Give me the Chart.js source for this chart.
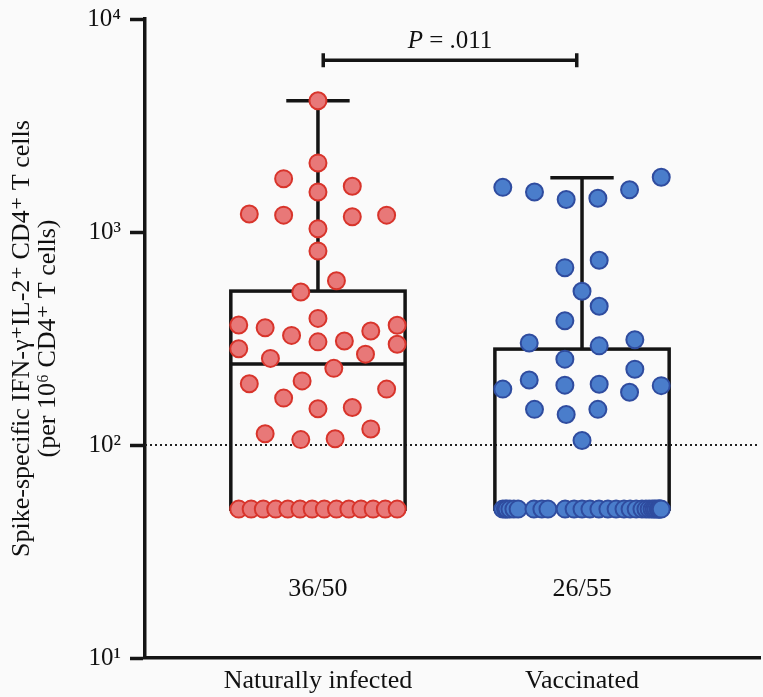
<!DOCTYPE html>
<html>
<head>
<meta charset="utf-8">
<script src="https://cdn.jsdelivr.net/npm/chart.js@4/dist/chart.umd.min.js"></script>
<style>
  html, body { margin: 0; padding: 0; background: #fafafa; }
  #wrap { width: 763px; height: 697px; }
</style>
</head>
<body>
<div id="wrap"><canvas id="c" width="763" height="697"></canvas></div>
<script>
// ---------- data ----------
const categories = ['Naturally infected', 'Vaccinated'];
const positiveCounts = ['36/50', '26/55'];
const yTickValues = [10, 100, 1000, 10000];
const detectionThreshold = 100;
const pValueLabel = '.011';

// Naturally infected: 36 positive responses + 14 below detection (plotted at 50)
const infectedValues = [
  4130, 2110, 1780, 1540, 1640, 1215, 1200, 1180, 1200, 1035, 815, 590, 523,
  366, 355, 393, 327, 343, 365, 283, 305, 308, 297, 255, 267, 229,
  194, 200, 183, 166, 148, 150, 119, 113, 106, 107,
  50, 50, 50, 50, 50, 50, 50, 50, 50, 50, 50, 50, 50, 50
];
const infectedJitter = [
  0, 0, -0.13, 0, 0.13, -0.26, -0.13, 0.13, 0.26, 0, 0, 0.07, -0.065,
  -0.30, -0.20, 0, -0.10, 0.20, 0.30, -0.30, 0, 0.10, 0.30, -0.18, 0.18, 0.06,
  -0.26, -0.06, 0.26, -0.13, 0, 0.13, 0.20, -0.20, -0.065, 0.065,
  -0.30, -0.253, -0.207, -0.16, -0.114, -0.068, -0.022, 0.024, 0.07, 0.117, 0.163, 0.209, 0.255, 0.30
];

// Vaccinated: 26 positive responses + 29 below detection (plotted at 50)
const vaccinatedValues = [
  1620, 1540, 1420, 1440, 1580, 1806, 680, 737, 527, 448, 383,
  301, 292, 312, 253, 227, 202, 191, 193, 183, 190, 177,
  147, 139, 147, 105,
  50, 50, 50, 50, 50, 50, 50, 50, 50, 50, 50, 50, 50, 50, 50,
  50, 50, 50, 50, 50, 50, 50, 50, 50, 50, 50, 50, 50, 50
];
const vaccinatedJitter = [
  -0.30, -0.18, -0.06, 0.06, 0.18, 0.30, -0.065, 0.065, 0, 0.065, -0.065,
  -0.20, 0.065, 0.20, -0.065, 0.20, -0.20, -0.065, 0.065, -0.30, 0.30, 0.18,
  -0.18, -0.06, 0.06, 0,
  -0.30, -0.29, -0.284, -0.273, -0.258, -0.242, -0.182, -0.152, -0.129, -0.064, -0.03, 0, 0.03, 0.064, 0.098,
  0.129, 0.159, 0.182, 0.205, 0.227, 0.242, 0.254, 0.265, 0.273, 0.28, 0.288, 0.292, 0.295, 0.30
];

// box summaries (per group)
const boxMin = [50, 50];
const boxQ1 = [50, 50];
const boxMedian = [240, 50];
const boxQ3 = [528, 282];
const boxMax = [4130, 1800];

// ---------- chart ----------
const SERIF = '"Liberation Serif", "DejaVu Serif", serif';
const BOX_HALF = 0.33;
const CAP_HALF = 0.12;

function toPoints(center, values, jitter) {
  return values.map((v, i) => ({ x: center + jitter[i], y: v }));
}
const supDigits = {'0':'⁰','1':'¹','2':'²','3':'³','4':'⁴','5':'⁵','6':'⁶','7':'⁷','8':'⁸','9':'⁹'};

const boxPlugin = {
  id: 'boxes',
  beforeDraw(chart) {
    const ctx = chart.ctx;
    ctx.save();
    ctx.fillStyle = '#fafafa';
    ctx.fillRect(0, 0, chart.width, chart.height);
    ctx.restore();
  },
  beforeDatasetsDraw(chart) {
    const { ctx, chartArea, scales: { x, y } } = chart;
    ctx.save();
    // threshold dotted line
    ctx.strokeStyle = '#222';
    ctx.lineWidth = 2;
    ctx.setLineDash([2, 3]);
    const ty = y.getPixelForValue(detectionThreshold);
    ctx.beginPath();
    ctx.moveTo(chartArea.left, ty);
    ctx.lineTo(chartArea.right, ty);
    ctx.stroke();
    ctx.setLineDash([]);

    ctx.strokeStyle = '#141414';
    ctx.lineWidth = 3.5;
    ctx.lineCap = 'butt';
    categories.forEach((c, i) => {
      const cx = i + 1;
      const l = x.getPixelForValue(cx - BOX_HALF);
      const r = x.getPixelForValue(cx + BOX_HALF);
      const m = x.getPixelForValue(cx);
      const yq1 = y.getPixelForValue(boxQ1[i]);
      const yq3 = y.getPixelForValue(boxQ3[i]);
      const ymed = y.getPixelForValue(boxMedian[i]);
      const ymax = y.getPixelForValue(boxMax[i]);
      const ymin = y.getPixelForValue(boxMin[i]);
      ctx.strokeRect(l, yq3, r - l, yq1 - yq3);
      ctx.beginPath();
      ctx.moveTo(l, ymed); ctx.lineTo(r, ymed);
      // upper whisker
      ctx.moveTo(m, yq3); ctx.lineTo(m, ymax);
      ctx.moveTo(x.getPixelForValue(cx - CAP_HALF), ymax);
      ctx.lineTo(x.getPixelForValue(cx + CAP_HALF), ymax);
      // lower whisker
      if (ymin > yq1) {
        ctx.moveTo(m, yq1); ctx.lineTo(m, ymin);
      }
      ctx.stroke();
    });
    ctx.restore();
  },
  afterDraw(chart) {
    const { ctx, scales: { x, y } } = chart;
    ctx.save();
    // significance bracket
    const by = y.getPixelForValue(6400);
    const bl = x.getPixelForValue(1.02);
    const br = x.getPixelForValue(1.98);
    ctx.strokeStyle = '#141414';
    ctx.lineWidth = 3.5;
    ctx.beginPath();
    ctx.moveTo(bl, by); ctx.lineTo(br, by);
    ctx.moveTo(bl, by - 7); ctx.lineTo(bl, by + 7);
    ctx.moveTo(br, by - 7); ctx.lineTo(br, by + 7);
    ctx.stroke();
    // P value text
    ctx.fillStyle = '#111';
    ctx.textBaseline = 'alphabetic';
    const italic = 'italic 25px ' + SERIF;
    const regular = '25px ' + SERIF;
    ctx.font = italic;
    const pW = ctx.measureText('P').width;
    ctx.font = regular;
    const rest = ' = ' + pValueLabel;
    const rW = ctx.measureText(rest).width;
    const cxm = (bl + br) / 2;
    let sx = cxm - (pW + rW) / 2;
    ctx.font = italic;
    ctx.textAlign = 'left';
    ctx.fillText('P', sx, by - 12);
    ctx.font = regular;
    ctx.fillText(rest, sx + pW, by - 12);
    // counts
    ctx.textAlign = 'center';
    ctx.textBaseline = 'middle';
    ctx.font = '26px ' + SERIF;
    positiveCounts.forEach((t, i) => {
      ctx.fillText(t, x.getPixelForValue(i + 1), y.getPixelForValue(21));
    });
    ctx.restore();
  }
};

new Chart(document.getElementById('c'), {
  type: 'scatter',
  data: {
    datasets: [
      {
        label: categories[0],
        data: toPoints(1, infectedValues, infectedJitter),
        backgroundColor: '#e87878',
        borderColor: '#d8342b',
        borderWidth: 2,
        pointRadius: 8.5,
        pointHoverRadius: 8.5
      },
      {
        label: categories[1],
        data: toPoints(2, vaccinatedValues, vaccinatedJitter),
        backgroundColor: '#4a7dcb',
        borderColor: '#2f4c9f',
        borderWidth: 2,
        pointRadius: 8.5,
        pointHoverRadius: 8.5
      }
    ]
  },
  options: {
    responsive: false,
    animation: false,
    devicePixelRatio: 1,
    layout: { autoPadding: false, padding: { top: 19, right: 3, left: 0, bottom: 0 } },
    plugins: { legend: { display: false }, tooltip: { enabled: false } },
    scales: {
      x: {
        type: 'linear',
        min: 0.345,
        max: 2.674,
        afterBuildTicks(scale) { scale.ticks = [{ value: 1 }, { value: 2 }]; },
        afterFit(scale) { scale.height = 39; scale.paddingLeft = 0; scale.paddingRight = 0; },
        ticks: {
          callback: (v) => categories[Math.round(v) - 1] || '',
          font: { family: SERIF, size: 26 },
          color: '#111',
          padding: 8,
          maxRotation: 0,
          autoSkip: false
        },
        grid: { display: true, drawOnChartArea: false, drawTicks: false, color: '#141414' },
        border: { display: true, color: '#141414', width: 3.5 }
      },
      y: {
        type: 'logarithmic',
        min: 10,
        max: 10000,
        afterBuildTicks(scale) { scale.ticks = yTickValues.map(v => ({ value: v })); },
        afterFit(scale) { scale.width = 145; scale.paddingTop = 0; scale.paddingBottom = 0; },
        ticks: {
          callback: (v) => '10' + String(Math.round(Math.log10(v))).split('').map(d => supDigits[d]).join(''),
          font: { family: SERIF, size: 25 },
          color: '#111',
          padding: 9
        },
        grid: { display: true, drawOnChartArea: false, drawTicks: true, tickLength: 15, tickWidth: 3.5, tickColor: '#141414' },
        border: { display: true, color: '#141414', width: 3.5 },
        title: {
          display: true,
          text: ['Spike-specific IFN-γ⁺IL-2⁺ CD4⁺ T cells', '(per 10⁶ CD4⁺ T cells)'],
          font: { family: SERIF, size: 26, lineHeight: '26px' },
          color: '#111',
          padding: { top: 9, bottom: 0 }
        }
      }
    }
  },
  plugins: [boxPlugin]
});
</script>
</body>
</html>
